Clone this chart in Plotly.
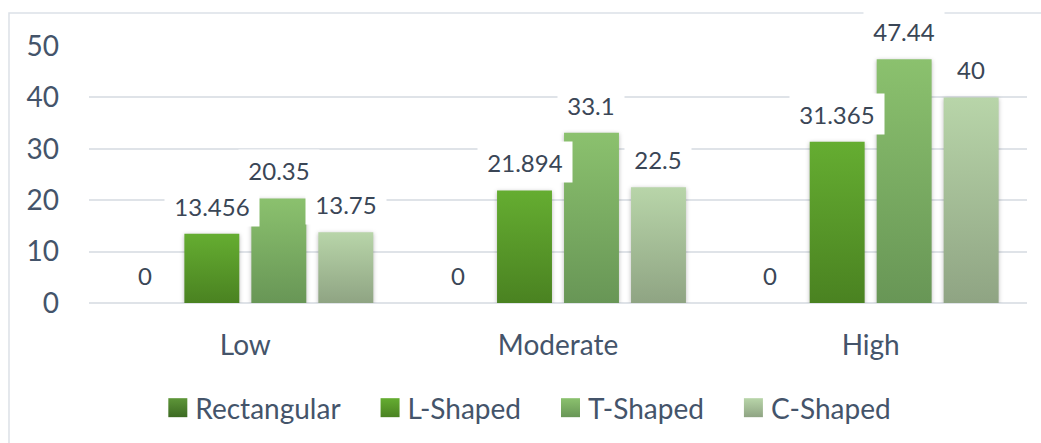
import json
import plotly.graph_objects as go

# Chart data
categories = ["Low", "Moderate", "High"]
series_names = ["Rectangular", "L-Shaped", "T-Shaped", "C-Shaped"]
rectangular = [0, 0, 0]
l_shaped = [13.456, 21.894, 31.365]
t_shaped = [20.35, 33.1, 47.44]
c_shaped = [13.75, 22.5, 40]
y_ticks = [0, 10, 20, 30, 40, 50]

series_values = [rectangular, l_shaped, t_shaped, c_shaped]

# Styling: each bar fades from a lighter top colour to a darker bottom colour
gradients = [
    ("#5E9639", "#3C6A22"),
    ("#65AD31", "#4A8221"),
    ("#8BC16E", "#689656"),
    ("#B8D5A9", "#8FA483"),
]
mid_colors = ["#4D8030", "#579829", "#79AC62", "#A4BD96"]

TEXT = "#44546A"
LABEL = "#3A4656"
GRID = "#DFE3E8"
FONT = "Lato"

BARGAP = 0.143
BARGROUPGAP = 0.18

fig = go.Figure()
for name, vals, col in zip(series_names, series_values, mid_colors):
    fig.add_trace(go.Bar(
        x=categories, y=vals, name=name,
        marker=dict(color=col, line=dict(width=0)),
        hoverinfo="x+y+name",
    ))

# Value labels on white boxes above each bar
n = len(series_names)
slot = (1 - BARGAP) / n
for si, vals in enumerate(series_values):
    for ci, v in enumerate(vals):
        txt = f"{v:g}"
        nd = sum(ch.isdigit() for ch in txt)
        ndot = txt.count(".")
        fig.add_annotation(
            x=ci + (si - (n - 1) / 2) * slot, xref="x",
            y=v, yref="y",
            text=txt, showarrow=False,
            yanchor="bottom", xanchor="center",
            yshift=7,
            width=nd * 14 + ndot * 6 + 18, height=40,
            borderpad=0, bgcolor="white",
            font=dict(family=FONT, size=24, color=LABEL),
        )

# Outer chart frame
fig.add_shape(
    type="rect", xref="paper", yref="paper",
    x0=-0.0853, x1=1.03, y0=-0.7, y1=1.128,
    line=dict(color="#DCE1E7", width=1.5), fillcolor="rgba(0,0,0,0)",
    layer="below",
)

fig.update_layout(
    width=1041, height=443,
    margin=dict(l=89, r=14, t=46, b=139),
    paper_bgcolor="white", plot_bgcolor="white",
    barmode="group", bargap=BARGAP, bargroupgap=BARGROUPGAP,
    font=dict(family=FONT, color=TEXT, size=28),
    showlegend=True,
    legend=dict(
        orientation="h", x=0.478, xanchor="center",
        y=-0.403, yanchor="middle",
        font=dict(family=FONT, size=28, color=TEXT),
        bgcolor="rgba(0,0,0,0)",
    ),
    xaxis=dict(
        type="category", showgrid=False, showline=False, zeroline=False,
        ticks="", ticklabelstandoff=23,
        tickfont=dict(family=FONT, size=28, color=TEXT),
        fixedrange=True,
    ),
    yaxis=dict(
        range=[0, 50], tickvals=y_ticks,
        showgrid=True, gridcolor=GRID, gridwidth=1.5,
        zeroline=True, zerolinecolor=GRID, zerolinewidth=1.5,
        showline=False, ticks="", ticklabelstandoff=29,
        tickfont=dict(family=FONT, size=28, color=TEXT),
        fixedrange=True,
    ),
)

# Legend layout in page pixels: swatch-to-text gap, text-to-next-swatch gap, centre x
LEGEND_SWATCH_GAP = 8
LEGEND_ITEM_GAP = 40
LEGEND_CENTER_X = 537.5

post_js = """
var gd = document.getElementById('{plot_id}');
var NS = 'http://www.w3.org/2000/svg';
var grads = GRADS;
var svg = gd.querySelector('svg.main-svg');
var defs = svg.querySelector('defs');
if (!defs) { defs = document.createElementNS(NS, 'defs'); svg.insertBefore(defs, svg.firstChild); }
grads.forEach(function (g, i) {
  var lg = document.createElementNS(NS, 'linearGradient');
  lg.setAttribute('id', 'barfill' + i);
  lg.setAttribute('x1', '0'); lg.setAttribute('y1', '0');
  lg.setAttribute('x2', '0'); lg.setAttribute('y2', '1');
  [[0, g[0]], [1, g[1]]].forEach(function (s) {
    var st = document.createElementNS(NS, 'stop');
    st.setAttribute('offset', s[0]);
    st.setAttribute('stop-color', s[1]);
    lg.appendChild(st);
  });
  defs.appendChild(lg);
});
gd.querySelectorAll('.barlayer .trace').forEach(function (tr, i) {
  tr.querySelectorAll('path').forEach(function (p) {
    p.style.fill = 'url(#barfill' + i + ')';
    p.style.filter = 'drop-shadow(0px 1px 2px rgba(0,0,0,0.28))';
  });
});

function getXY(el) {
  var m = /translate\\(\\s*([-\\d.e]+)[ ,]+([-\\d.e]+)\\s*\\)/.exec(el.getAttribute('transform') || '');
  return m ? [parseFloat(m[1]), parseFloat(m[2])] : [0, 0];
}
var sb = gd.querySelector('.legend .scrollbox');
if (sb) { sb.removeAttribute('clip-path'); }
var items = Array.prototype.slice.call(gd.querySelectorAll('.legend .traces'));
items.forEach(function (tr, i) {
  var p = tr.querySelector('.legendpoints path');
  var t = tr.querySelector('text.legendtext');
  if (!p || !t) { return; }
  p.setAttribute('d', 'M9.5,9.5H-9.5V-9.5H9.5Z');
  p.style.fill = 'url(#barfill' + i + ')';
  p.style.stroke = 'none';
  // shift the swatch so it sits SWGAP px left of the text
  var tl = t.getBoundingClientRect().left;
  var pr = p.getBoundingClientRect().right;
  var dx = (tl - SWGAP) - pr;
  var pp = p.parentNode;
  var cur = pp.getAttribute('transform') || '';
  pp.setAttribute('transform', 'translate(' + dx + ',0) ' + cur);
});
var prevEnd = null;
items.forEach(function (tr) {
  var p = tr.querySelector('.legendpoints path');
  var t = tr.querySelector('text.legendtext');
  if (!p || !t) { return; }
  if (prevEnd !== null) {
    var xy = getXY(tr);
    var shift = (prevEnd + ITEMGAP) - p.getBoundingClientRect().left;
    tr.setAttribute('transform', 'translate(' + (xy[0] + shift) + ',' + xy[1] + ')');
  }
  prevEnd = t.getBoundingClientRect().right;
});
if (items.length) {
  var L = items[0].querySelector('.legendpoints path').getBoundingClientRect().left;
  var R = items[items.length - 1].querySelector('text.legendtext').getBoundingClientRect().right;
  var delta = CENTERX - (L + R) / 2;
  items.forEach(function (tr) {
    var xy = getXY(tr);
    tr.setAttribute('transform', 'translate(' + (xy[0] + delta) + ',' + xy[1] + ')');
  });
}
"""
post_js = (post_js
           .replace("GRADS", json.dumps([list(g) for g in gradients]))
           .replace("SWGAP", str(LEGEND_SWATCH_GAP))
           .replace("ITEMGAP", str(LEGEND_ITEM_GAP))
           .replace("CENTERX", str(LEGEND_CENTER_X)))

fig.write_html("out.html", post_script=post_js)
